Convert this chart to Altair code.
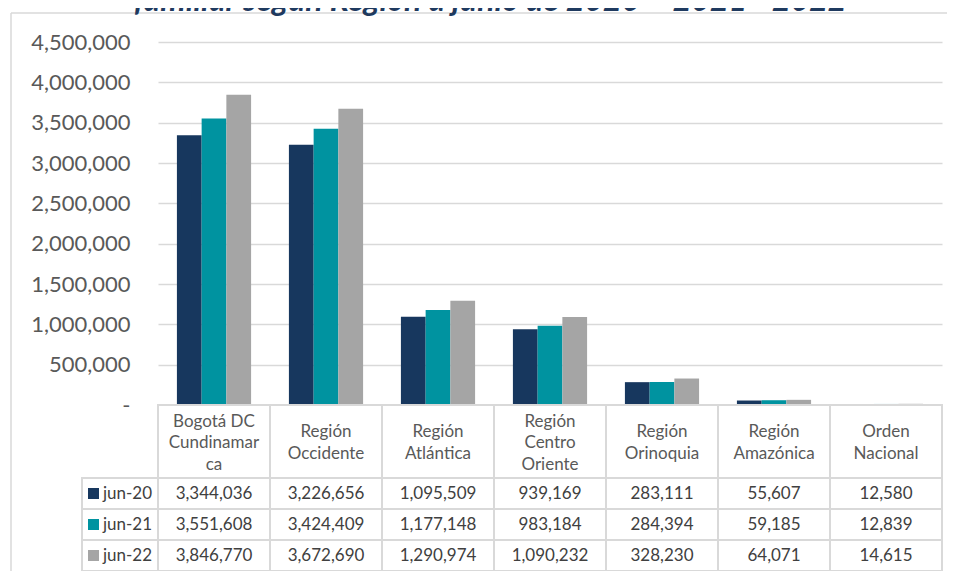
import altair as alt
import pandas as pd

regions = ["Bogotá DC Cundinamarca", "Región Occidente", "Región Atlántica",
           "Región Centro Oriente", "Región Orinoquia", "Región Amazónica", "Orden Nacional"]
region_labels = ["Bogotá DC\nCundinamar\nca", "Región\nOccidente", "Región\nAtlántica",
                 "Región\nCentro\nOriente", "Región\nOrinoquia", "Región\nAmazónica", "Orden\nNacional"]
series = ["jun-20", "jun-21", "jun-22"]
jun20 = [3344036, 3226656, 1095509, 939169, 283111, 55607, 12580]
jun21 = [3551608, 3424409, 1177148, 983184, 284394, 59185, 12839]
jun22 = [3846770, 3672690, 1290974, 1090232, 328230, 64071, 14615]
colors = ["#17375E", "#0093A0", "#A5A5A5"]
y_ticks = [0, 500000, 1000000, 1500000, 2000000, 2500000, 3000000, 3500000, 4000000, 4500000]
title_text = "familiar según Región a junio de 2020 – 2021 - 2022"

rows = []
for s, vals in zip(series, [jun20, jun21, jun22]):
    for r, v in zip(regions, vals):
        rows.append({"region": r, "series": s, "value": v, "label": f"{v:,}"})
df = pd.DataFrame(rows)
df_head = pd.DataFrame({"region": regions, "label": region_labels})
df_head["nlines"] = df_head["label"].str.count("\n") + 1
df_series = pd.DataFrame({"series": series})
df_one = pd.DataFrame({"t": [title_text]})

FONT = "Lato"
GRID = "#D9D9D9"
W, H = 784, 529
BAR_H = 363
HEAD_BOTTOM = 436
TABLE_BOTTOM = 529
LINE_H = 21.5
RIGHT = 5

x_enc = alt.X("region:N", sort=regions,
              scale=alt.Scale(paddingInner=0, paddingOuter=0), axis=None)
y_rows = alt.Y("series:N", sort=series,
               scale=alt.Scale(domain=series, range=[HEAD_BOTTOM, TABLE_BOTTOM],
                               paddingInner=0, paddingOuter=0),
               axis=None)

frame_top = alt.Chart(df_one).mark_rule(color=GRID, strokeWidth=1.5).encode(
    x=alt.value(-147), x2=alt.value(W + RIGHT), y=alt.value(-29))
frame_left = alt.Chart(df_one).mark_rule(color=GRID, strokeWidth=1.5).encode(
    x=alt.value(-147), y=alt.value(-29), y2=alt.value(H))

title = alt.Chart(df_one).mark_text(
    font=FONT, fontSize=32, fontStyle="italic", fontWeight="bold", color="#1F3A5F",
    align="center", baseline="alphabetic").encode(
    x=alt.value(332), y=alt.value(-31), text="t:N")

bars = alt.Chart(df).mark_bar().encode(
    x=x_enc,
    xOffset=alt.XOffset("series:N", sort=series,
                        scale=alt.Scale(domain=series, paddingInner=0, paddingOuter=0.765)),
    y=alt.Y("value:Q", scale=alt.Scale(domain=[0, 4500000], nice=False, range=[BAR_H, 0]),
            axis=alt.Axis(values=y_ticks, title=None, domain=False, ticks=False,
                          grid=True, gridColor=GRID, gridWidth=1.5,
                          labelExpr="datum.value == 0 ? '-\u00a0\u00a0\u00a0' : format(datum.value, ',')",
                          labelFont=FONT, labelFontSize=22, labelColor="#595959",
                          labelPadding=28)),
    color=alt.Color("series:N", scale=alt.Scale(domain=series, range=colors), legend=None),
)

head_cells = alt.Chart(df_head).mark_rect(fill="white", stroke=GRID, strokeWidth=2).encode(
    x=x_enc, y=alt.value(BAR_H), y2=alt.value(HEAD_BOTTOM))

head_mid = (BAR_H + HEAD_BOTTOM) / 2 + 1.5


def head_text_layer(n):
    return alt.Chart(df_head).transform_filter(alt.datum.nlines == n).mark_text(
        font=FONT, fontSize=17, color="#595959", lineBreak="\n", lineHeight=LINE_H,
        baseline="middle", align="center").encode(
        x=x_enc, y=alt.value(head_mid - (n - 1) * LINE_H / 2), text="label:N")


head_text2 = head_text_layer(2)
head_text3 = head_text_layer(3)

val_cells = alt.Chart(df).mark_rect(fill="white", stroke=GRID, strokeWidth=2).encode(
    x=x_enc, y=y_rows)
val_text = alt.Chart(df).mark_text(
    font=FONT, fontSize=17, color="#404040", baseline="middle", align="center").encode(
    x=x_enc, y=y_rows, text="label:N")

leg_cells = alt.Chart(df_series).mark_rect(fill="white", stroke=GRID, strokeWidth=2).encode(
    x=alt.value(-76), x2=alt.value(0), y=y_rows)
leg_sq = alt.Chart(df_series).mark_square(size=121, opacity=1).encode(
    x=alt.value(-64.5), y=y_rows,
    color=alt.Color("series:N", scale=alt.Scale(domain=series, range=colors), legend=None))
leg_text = alt.Chart(df_series).mark_text(
    font=FONT, fontSize=17, color="#404040", baseline="middle", align="left").encode(
    x=alt.value(-55), y=y_rows, text="series:N")

chart = alt.layer(
    frame_top, frame_left, title, bars, head_cells, head_text2, head_text3,
    val_cells, val_text, leg_cells, leg_sq, leg_text
).resolve_scale(y="independent").properties(
    width=W, height=H,
    autosize=alt.AutoSizeParams(type="none"),
    padding={"left": 150, "top": 34, "right": RIGHT, "bottom": 0},
).configure_view(strokeWidth=0)

chart.save("out.html", embed_options={"renderer": "svg", "actions": False})
